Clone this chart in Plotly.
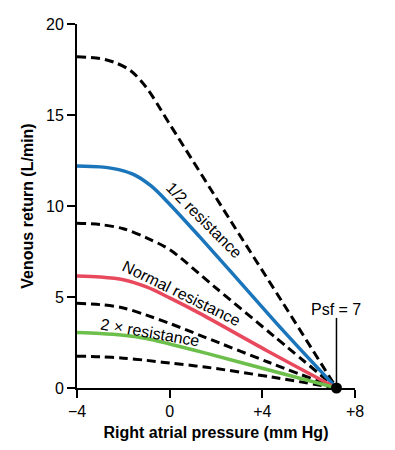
import plotly.graph_objects as go

# Right atrial pressure (mm Hg) sample points for each curve
x_top = [-4, -3, -2.4, -1.7, -1, 0, 2.6, 4.9, 7.2]
y_top = [18.2, 18.1, 17.9, 17.45, 16.5, 14.5, 9.25, 4.65, 0]

x_half = [-4, -3, -2.2, -1.5, -0.8, 0, 1.3, 2.6, 4.9, 7.2]
y_half = [12.2, 12.15, 12.0, 11.7, 11.1, 10.1, 8.3, 6.45, 3.15, 0]

x_d9 = [-4, -3, -2, -1, 0, 1.9, 4.5, 7.2]
y_d9 = [9.05, 8.98, 8.75, 8.25, 7.6, 5.6, 2.85, 0]

x_norm = [-4, -3, -2, -1, 0, 1.3, 4.2, 7.2]
y_norm = [6.15, 6.1, 5.95, 5.55, 4.95, 4.1, 2.05, 0]

x_d46 = [-4, -3, -2, -1, 0, 1.5, 4.3, 7.2]
y_d46 = [4.65, 4.58, 4.4, 4.0, 3.55, 2.8, 1.4, 0]

x_double = [-4, -3, -2, -1, 0, 1.6, 4.4, 7.2]
y_double = [3.05, 3.0, 2.9, 2.72, 2.42, 1.9, 0.95, 0]

x_d18 = [-4, -3, -2, -1, 0, 1.6, 4.4, 7.2]
y_d18 = [1.75, 1.72, 1.64, 1.52, 1.37, 1.14, 0.6, 0]

psf = 7.2
psf_label = "Psf = 7"

x_ticks = [-4, 0, 4, 8]
x_tick_labels = ["\u22124", "0", "+4", "+8"]
y_ticks = [0, 5, 10, 15, 20]

FONT = "Liberation Sans, Arial, sans-serif"
BLUE = "#1b75bb"
RED = "#e8495d"
GREEN = "#6cbf4a"

fig = go.Figure()

dash_style = dict(color="black", width=3, dash="9px,5px")
for xs, ys in [(x_top, y_top), (x_d9, y_d9), (x_d46, y_d46), (x_d18, y_d18)]:
    fig.add_trace(go.Scatter(x=xs, y=ys, mode="lines", line=dict(shape="spline", smoothing=0.9, **dash_style),
                             hoverinfo="skip", showlegend=False))

for xs, ys, c in [(x_half, y_half, BLUE), (x_norm, y_norm, RED), (x_double, y_double, GREEN)]:
    fig.add_trace(go.Scatter(x=xs, y=ys, mode="lines", line=dict(color=c, width=3.5, shape="spline", smoothing=0.9),
                             hoverinfo="skip", showlegend=False))

# Psf marker line and dot
fig.add_trace(go.Scatter(x=[psf, psf], y=[0, 3.85], mode="lines", line=dict(color="black", width=1.5),
                         hoverinfo="skip", showlegend=False, cliponaxis=False))
fig.add_trace(go.Scatter(x=[psf], y=[0], mode="markers", marker=dict(color="black", size=11),
                         hoverinfo="skip", showlegend=False, cliponaxis=False))

annos = [
    dict(x=1.5, y=9.2, text="1/2 resistance", textangle=45),
    dict(x=0.52, y=5.2, text="Normal resistance", textangle=26),
    dict(x=-0.85, y=3.05, text="2 \u00d7 resistance", textangle=10),
    dict(x=psf, y=4.34, text=psf_label, textangle=0),
]
for a in annos:
    fig.add_annotation(x=a["x"], y=a["y"], text=a["text"], textangle=a["textangle"], showarrow=False,
                       xref="x", yref="y", font=dict(family=FONT, size=16, color="black"))

fig.update_xaxes(range=[-4, 8], tickvals=x_ticks, ticktext=x_tick_labels, showgrid=False, zeroline=False,
                 showline=True, linecolor="black", linewidth=2, ticks="outside", ticklen=8, tickwidth=2,
                 tickcolor="black", tickfont=dict(family=FONT, size=16, color="black"), automargin=False,
                 title=dict(text="<b>Right atrial pressure (mm Hg)</b>", font=dict(family=FONT, size=16, color="black"),
                            standoff=8))
fig.update_yaxes(range=[0, 20], tickvals=y_ticks, showgrid=False, zeroline=False,
                 showline=True, linecolor="black", linewidth=2, ticks="outside", ticklen=8, tickwidth=2,
                 tickcolor="black", tickfont=dict(family=FONT, size=16, color="black"), automargin=False,
                 title=dict(text="<b>Venous return (L/min)</b>", font=dict(family=FONT, size=16, color="black"),
                            standoff=8))

# page body has an 8px margin, so the figure is sized/offset to land on the reference pixels
fig.update_layout(width=387, height=434, margin=dict(l=69, r=40, t=16, b=54),
                  plot_bgcolor="white", paper_bgcolor="white", showlegend=False)

fig.write_html("out.html")
